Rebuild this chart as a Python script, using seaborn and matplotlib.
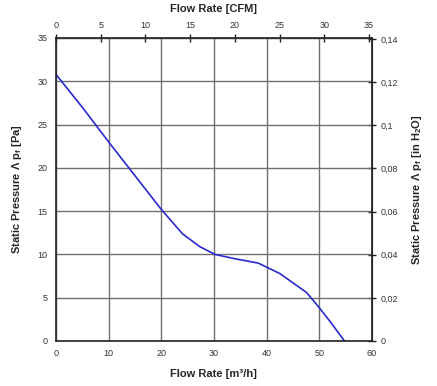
import matplotlib
matplotlib.use("Agg")
import matplotlib.pyplot as plt
import seaborn as sns
import pandas as pd

flow_m3h = [0, 5, 10, 15, 20, 24, 27.3, 30.2, 34, 38.4, 42.5, 47.6, 49.8, 52, 54.8]
pressure_pa = [30.8, 27.0, 23.0, 19.1, 15.2, 12.4, 10.9, 10.0, 9.5, 9.0, 7.8, 5.6, 4.0, 2.3, 0.0]

x_ticks = [0, 10, 20, 30, 40, 50, 60]
y_ticks = [0, 5, 10, 15, 20, 25, 30, 35]
cfm_ticks = [0, 5, 10, 15, 20, 25, 30, 35]
inh2o_ticks = [0, 0.02, 0.04, 0.06, 0.08, 0.10, 0.12, 0.14]
inh2o_labels = ["0", "0,02", "0,04", "0,06", "0,08", "0,1", "0,12", "0,14"]

M3H_PER_CFM = 1.699
PA_PER_INH2O = 249.09

sns.set_style("white")
plt.rcParams['font.family'] = ['Liberation Sans', 'DejaVu Sans']
plt.rcParams['mathtext.fontset'] = 'custom'
plt.rcParams['mathtext.rm'] = 'Liberation Sans'
plt.rcParams['mathtext.bf'] = 'Liberation Sans:bold'

df = pd.DataFrame({"flow": flow_m3h, "pressure": pressure_pa})

fig = plt.figure(figsize=(4.37, 3.86), dpi=100)
ax = fig.add_axes([0.128, 0.1166, 0.723, 0.785])

sns.lineplot(data=df, x="flow", y="pressure", ax=ax, color="#2a2acc", linewidth=1.2)

ax.set_xlim(0, 60)
ax.set_ylim(0, 35)
ax.set_xticks(x_ticks)
ax.set_yticks(y_ticks)
ax.grid(True, color="#707070", linewidth=1.0)
for s in ax.spines.values():
    s.set_color("#222222")
    s.set_linewidth(1.2)
    s.set_visible(True)

tick_kw = dict(labelsize=6.5, labelcolor="#333333", length=6, direction="inout", width=1, color="#222222")
ax.tick_params(axis="both", pad=3, **tick_kw)

ax.set_xlabel("Flow Rate [m³/h]", fontsize=8, fontweight="bold", labelpad=8)
ax.set_ylabel(r"Static Pressure Λ p$_\mathbf{f}$ [Pa]", fontsize=8, fontweight="bold", labelpad=10)

secx = ax.secondary_xaxis("top", functions=(lambda v: v / M3H_PER_CFM, lambda v: v * M3H_PER_CFM))
secx.set_xticks(cfm_ticks)
secx.tick_params(axis="x", pad=3, **tick_kw)
secx.set_xlabel("Flow Rate [CFM]", fontsize=8, fontweight="bold", labelpad=6)

secy = ax.secondary_yaxis("right", functions=(lambda v: v / PA_PER_INH2O, lambda v: v * PA_PER_INH2O))
secy.set_yticks(inh2o_ticks)
secy.set_yticklabels(inh2o_labels)
secy.tick_params(axis="y", pad=3, **tick_kw)
secy.set_ylabel(r"Static Pressure Λ p$_\mathbf{f}$ [in H$_\mathbf{2}$O]", fontsize=8, fontweight="bold", labelpad=9)

fig.savefig("out.png", dpi=100)
